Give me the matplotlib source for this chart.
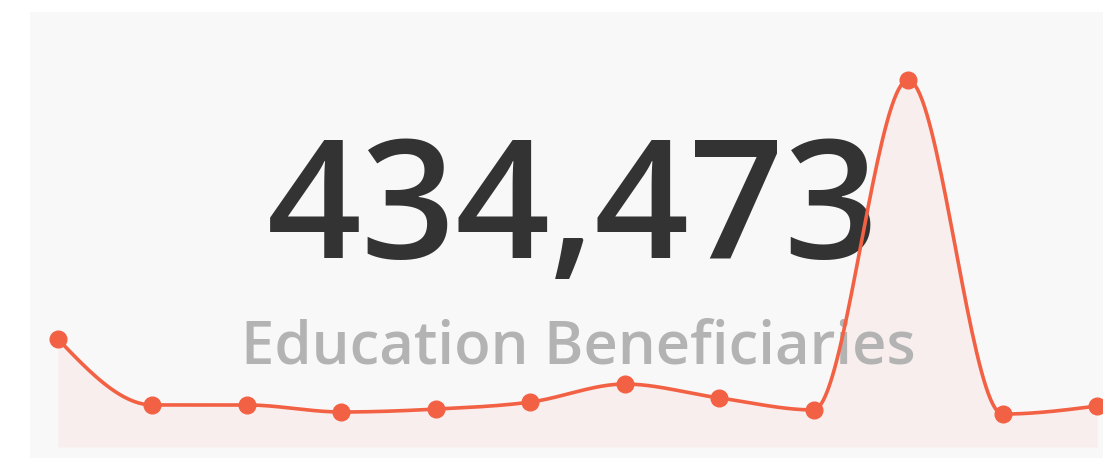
import numpy as np
import matplotlib.pyplot as plt
from matplotlib.patches import Rectangle

W, H = 1103, 459

months = list(range(12))
beneficiaries = [52100, 20300, 20300, 16900, 18300, 21700,
                 30400, 23700, 17900, 177200, 15900, 19800]
total_label = "434,473"
caption = "Education Beneficiaries"

line_color = "#f26144"
fill_color = "#f8eeed"
panel_color = "#f8f8f8"


def monotone_curve(x, y, n=40):
    # monotone cubic (like d3.curveMonotoneX)
    x = np.asarray(x, float)
    y = np.asarray(y, float)
    h = np.diff(x)
    s = np.diff(y) / h
    t = np.zeros(len(x))
    for i in range(1, len(x) - 1):
        p = (s[i - 1] * h[i] + s[i] * h[i - 1]) / (h[i - 1] + h[i])
        t[i] = (np.sign(s[i - 1]) + np.sign(s[i])) * min(abs(s[i - 1]), abs(s[i]), 0.5 * abs(p))
    t[0] = (3 * s[0] - t[1]) / 2
    t[-1] = (3 * s[-1] - t[-2]) / 2
    xs, ys = [], []
    for i in range(len(x) - 1):
        u = np.linspace(0, 1, n, endpoint=False)
        h00 = 2 * u**3 - 3 * u**2 + 1
        h10 = u**3 - 2 * u**2 + u
        h01 = -2 * u**3 + 3 * u**2
        h11 = u**3 - u**2
        xs.append(x[i] + u * h[i])
        ys.append(h00 * y[i] + h10 * h[i] * t[i] + h01 * y[i + 1] + h11 * h[i] * t[i + 1])
    xs.append([x[-1]])
    ys.append([y[-1]])
    return np.concatenate(xs), np.concatenate(ys)


fig = plt.figure(figsize=(W / 100, H / 100), dpi=100)
fig.patch.set_facecolor("white")
fig.patches.append(Rectangle((30 / W, 1 - 458 / H), (W - 30) / W, (458 - 12) / H,
                             transform=fig.transFigure, facecolor=panel_color,
                             edgecolor="none", zorder=-1))

ax = fig.add_axes([58 / W, 1 - 447 / H, (1097 - 58) / W, (447 - 80) / H])
ax.set_facecolor("none")
ax.set_xlim(0, 11)
ax.set_ylim(0, max(beneficiaries))
ax.axis("off")

cx, cy = monotone_curve(months, beneficiaries)
ax.fill_between(cx, 0, cy, color=fill_color, lw=0, zorder=1)
ax.plot(cx, cy, color=line_color, lw=2.6, zorder=5, clip_on=False, solid_capstyle="round")
ax.plot(months, beneficiaries, "o", color=line_color, ms=12, zorder=6, clip_on=False)

ax.text(573.5 / W, 1 - 258 / H, total_label, ha="center", va="baseline",
        fontsize=119.5, color="#333333", family="Open Sans", weight="semibold",
        transform=fig.transFigure, zorder=3)
ax.text(578.5 / W, 1 - 363 / H, caption, ha="center", va="baseline",
        fontsize=43, color="#b3b3b3", family="Open Sans", weight="semibold",
        transform=fig.transFigure, zorder=3)

fig.savefig("out.png", dpi=100)
